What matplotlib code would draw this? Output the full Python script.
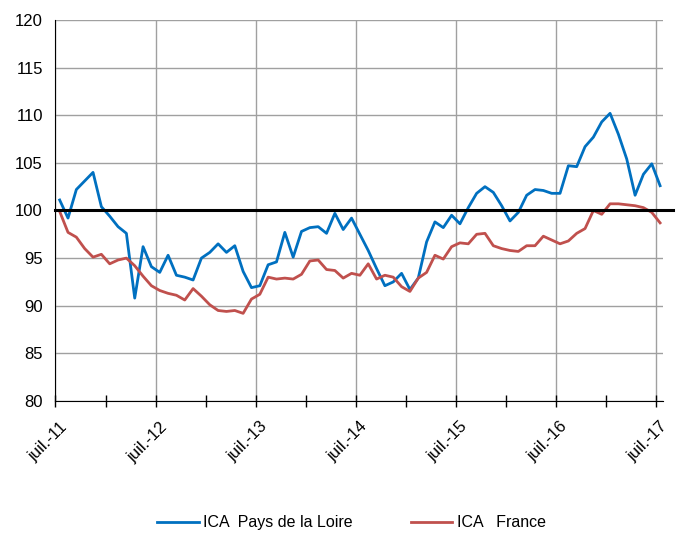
import numpy as np
import matplotlib
matplotlib.use('Agg')
import matplotlib.pyplot as plt
import matplotlib.transforms as mtransforms
from matplotlib.ticker import MultipleLocator

plt.rcParams['font.family'] = ['Liberation Sans', 'DejaVu Sans']

# monthly index, juil.-11 .. juil.-17
year_labels = ['juil.-11', 'juil.-12', 'juil.-13', 'juil.-14', 'juil.-15', 'juil.-16', 'juil.-17']

ica_pdl = [101.1, 99.2, 102.2, 103.1, 104.0, 100.4, 99.4, 98.3, 97.6, 90.8,
           96.2, 94.1, 93.5, 95.3, 93.2, 93.0, 92.7, 95.0, 95.6, 96.5,
           95.6, 96.3, 93.6, 91.9, 92.1, 94.3, 94.6, 97.7, 95.1, 97.8,
           98.2, 98.3, 97.6, 99.7, 98.0, 99.2, 97.5, 95.8, 93.9, 92.1,
           92.5, 93.4, 91.7, 92.9, 96.7, 98.8, 98.2, 99.5, 98.6, 100.3,
           101.8, 102.5, 101.9, 100.5, 98.9, 99.8, 101.6, 102.2, 102.1, 101.8,
           101.8, 104.7, 104.6, 106.7, 107.7, 109.3, 110.2, 108.0, 105.4, 101.6,
           103.8, 104.9, 102.6]

ica_france = [99.9, 97.7, 97.2, 96.0, 95.1, 95.4, 94.4, 94.8, 95.0, 94.2,
              93.1, 92.1, 91.6, 91.3, 91.1, 90.6, 91.8, 91.0, 90.1, 89.5,
              89.4, 89.5, 89.2, 90.7, 91.2, 93.0, 92.8, 92.9, 92.8, 93.3,
              94.7, 94.8, 93.8, 93.7, 92.9, 93.4, 93.2, 94.4, 92.8, 93.2,
              93.0, 92.0, 91.5, 92.9, 93.5, 95.3, 94.9, 96.2, 96.6, 96.5,
              97.5, 97.6, 96.3, 96.0, 95.8, 95.7, 96.3, 96.3, 97.3, 96.9,
              96.5, 96.8, 97.6, 98.1, 100.0, 99.6, 100.7, 100.7, 100.6, 100.5,
              100.3, 99.8, 98.7]

months = np.arange(len(ica_pdl)) + 0.5

fig = plt.figure(figsize=(6.76, 5.33), dpi=100)
ax = fig.add_axes([0.0821, 0.2477, 0.8987, 0.7148])

ax.plot(months, ica_pdl, color='#0070C0', lw=2.0, label='ICA  Pays de la Loire', zorder=3)
ax.plot(months, ica_france, color='#C0504D', lw=2.0, label='ICA   France', zorder=3)
ax.axhline(100, xmin=0, xmax=1.016, color='black', lw=2.2, clip_on=False, zorder=4)

ax.set_xlim(0, 72.85)
ax.set_ylim(80, 120)
ax.set_xticks(np.arange(0, 73, 12))
ax.set_xticklabels(year_labels, rotation=45, ha='right', rotation_mode='anchor', fontsize=12)
ax.xaxis.set_minor_locator(MultipleLocator(6))
ax.yaxis.set_major_locator(MultipleLocator(5))
ax.tick_params(axis='y', length=0, pad=9, labelsize=12)
ax.tick_params(axis='x', which='both', direction='inout', length=8, width=1, pad=4)

# nudge rotated labels down/right like the original
offset = mtransforms.ScaledTranslation(4 / 100, -7 / 100, fig.dpi_scale_trans)
for lbl in ax.get_xticklabels():
    lbl.set_transform(lbl.get_transform() + offset)

ax.grid(True, which='major', color='#A0A0A0', lw=1.0)
ax.set_axisbelow(True)
for s in ['top', 'right']:
    ax.spines[s].set_visible(False)
ax.spines['left'].set_color('black')
ax.spines['bottom'].set_color('black')
ax.spines['bottom'].set_zorder(5)

fig.legend(loc='lower center', bbox_to_anchor=(0.52, -0.022), ncol=2, frameon=False,
           fontsize=11.5, handlelength=2.6, columnspacing=3.6, handletextpad=0.3)

fig.savefig('out.png', dpi=100)
